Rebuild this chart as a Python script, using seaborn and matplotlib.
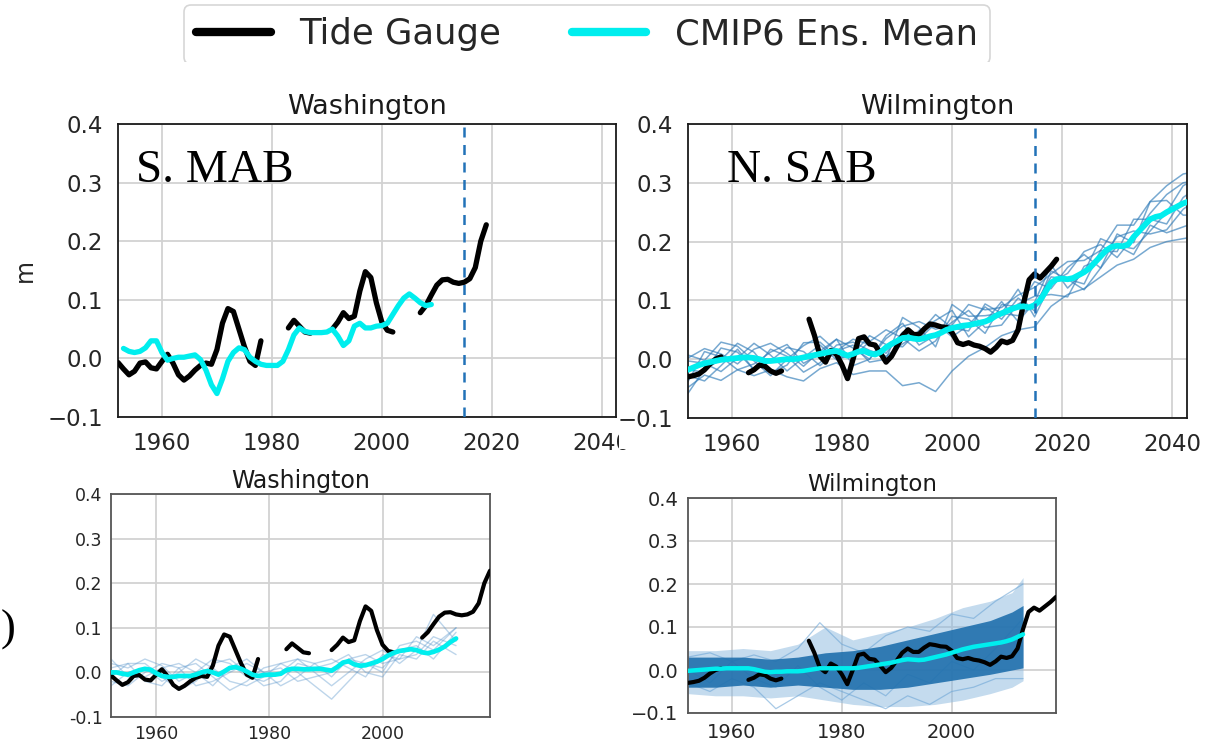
import numpy as np
import pandas as pd
import matplotlib
matplotlib.use("Agg")
import matplotlib.pyplot as plt
from matplotlib.lines import Line2D
from matplotlib.patches import Rectangle
import seaborn as sns

# ---------------- data ----------------
years_tg = np.arange(1952, 2020)
nan = np.nan
wash_tide = [-0.007, -0.018, -0.028, -0.022, -0.008, -0.006, -0.016, -0.018, -0.005, 0.007,
             -0.008, -0.028, -0.037, -0.030, -0.020, -0.012, -0.008, -0.010, 0.015, 0.060,
             0.085, 0.080, 0.050, 0.020, -0.005, -0.012, 0.030,
             nan, nan, nan, nan,
             0.052, 0.065, 0.055, 0.045, 0.043,
             nan, nan, nan,
             0.050, 0.062, 0.078, 0.068, 0.072, 0.115, 0.148, 0.138, 0.095, 0.062, 0.048, 0.045,
             nan, nan, nan, nan,
             0.078, 0.090, 0.108, 0.125, 0.134, 0.135, 0.130, 0.128, 0.130, 0.136, 0.155, 0.200, 0.228]
wilm_tide = [-0.030, -0.028, -0.025, -0.018, -0.008, 0.000, 0.004,
             nan, nan, nan, nan,
             -0.023, -0.018, -0.010, -0.012, -0.020, -0.024, -0.020,
             nan, nan, nan, nan,
             0.068, 0.040, 0.005, -0.005, 0.015, 0.008, -0.010, -0.033, 0.000, 0.035,
             0.038, 0.026, 0.024, 0.010, -0.005, 0.005, 0.022, 0.040, 0.050, 0.042,
             0.042, 0.052, 0.060, 0.058, 0.055, 0.054, 0.045, 0.028, 0.025, 0.028,
             0.024, 0.022, 0.018, 0.012, 0.020, 0.031, 0.028, 0.032, 0.050, 0.095,
             0.135, 0.145, 0.138, 0.148, 0.158, 0.170]

# top-left: Washington CMIP6 ensemble mean (1953-2009)
years_wash_mean_top = np.arange(1953, 2010)
wash_mean_top = [0.017, 0.012, 0.010, 0.012, 0.018, 0.030, 0.030, 0.010, -0.003, 0.000,
                 0.002, 0.002, 0.004, 0.006, -0.002, -0.020, -0.045, -0.060, -0.035, -0.005,
                 0.010, 0.018, 0.015, 0.002, -0.005, -0.010, -0.012, -0.012, -0.012, -0.005,
                 0.015, 0.040, 0.052, 0.046, 0.044, 0.044, 0.044, 0.045, 0.050, 0.038,
                 0.022, 0.030, 0.055, 0.060, 0.052, 0.052, 0.055, 0.056, 0.060, 0.075,
                 0.090, 0.103, 0.110, 0.103, 0.095, 0.090, 0.092]

# top-right: Wilmington CMIP6 ensemble mean (1952-2045)
years_wilm_mean_top = np.arange(1952, 2046)
wilm_mean_top = [-0.018, -0.014, -0.010, -0.007, -0.005, -0.003, -0.001, 0.000, 0.001, 0.002,
                 0.003, 0.003, 0.002, 0.000, -0.003, -0.003, -0.002, -0.001, 0.000, 0.000,
                 0.001, 0.003, 0.005, 0.007, 0.009, 0.011, 0.013, 0.014, 0.010, 0.006,
                 0.009, 0.013, 0.014, 0.010, 0.008, 0.012, 0.020, 0.026, 0.031, 0.036,
                 0.037, 0.035, 0.034, 0.036, 0.039, 0.041, 0.045, 0.050, 0.053, 0.055,
                 0.057, 0.058, 0.060, 0.062, 0.064, 0.068, 0.074, 0.078, 0.082, 0.086,
                 0.089, 0.090, 0.088, 0.092, 0.100, 0.115, 0.130, 0.136, 0.137, 0.136,
                 0.138, 0.143, 0.148, 0.155, 0.165, 0.175, 0.185, 0.191, 0.193, 0.192,
                 0.195, 0.208, 0.218, 0.228, 0.238, 0.242, 0.244, 0.250, 0.255, 0.260,
                 0.265, 0.268, 0.272, 0.275]

# top-right: Wilmington individual members (3-yearly)
years_wilm_members = np.arange(1952, 2046, 3)
wilm_member_a = [0.002, 0.018, 0.009, -0.008, 0.017, 0.027, 0.010, -0.012, 0.014, 0.034, 0.019, 0.000,
                 0.035, 0.056, 0.064, 0.051, 0.058, 0.093, 0.084, 0.088, 0.109, 0.122, 0.145, 0.166,
                 0.168, 0.185, 0.228, 0.228, 0.268, 0.295, 0.315, 0.320]
wilm_member_b = [-0.048, -0.027, -0.036, -0.018, -0.028, -0.018, -0.030, -0.037, -0.016, -0.006, -0.026, -0.020,
                 -0.020, -0.045, -0.040, -0.055, -0.020, 0.005, 0.020, 0.040, 0.050, 0.055, 0.090, 0.110,
                 0.120, 0.140, 0.160, 0.170, 0.190, 0.200, 0.205, 0.210]
wilm_member_c = [-0.018, -0.022, 0.019, 0.012, -0.018, -0.003, 0.020, 0.013, -0.011, 0.014, 0.034, 0.025,
                 0.010, 0.046, 0.034, 0.061, 0.038, 0.058, 0.089, 0.068, 0.104, 0.082, 0.150, 0.136,
                 0.128, 0.185, 0.183, 0.238, 0.238, 0.230, 0.275, 0.295]
wilm_member_d = [-0.058, -0.017, -0.001, 0.027, 0.012, -0.023, -0.010, 0.028, 0.029, 0.004, 0.004, 0.030,
                 0.050, 0.036, 0.014, 0.031, 0.073, 0.068, 0.044, 0.093, 0.089, 0.132, 0.120, 0.156,
                 0.178, 0.155, 0.213, 0.198, 0.268, 0.270, 0.245, 0.245]
wilm_member_e = [-0.003, -0.007, -0.021, 0.002, 0.027, 0.007, -0.020, 0.003, 0.024, -0.001, 0.009, 0.040,
                 0.025, 0.021, 0.049, 0.066, 0.083, 0.038, 0.064, 0.098, 0.064, 0.097, 0.160, 0.121,
                 0.148, 0.205, 0.193, 0.188, 0.218, 0.250, 0.295, 0.310]
wilm_member_f = [-0.038, 0.013, 0.004, -0.018, -0.008, 0.012, 0.025, -0.007, 0.009, 0.034, -0.011, 0.000,
                 0.040, 0.061, 0.024, 0.041, 0.063, 0.083, 0.054, 0.058, 0.094, 0.107, 0.110, 0.106,
                 0.158, 0.170, 0.208, 0.218, 0.213, 0.220, 0.255, 0.275]
wilm_member_g = [0.007, -0.002, 0.029, 0.022, -0.003, -0.028, 0.000, 0.023, 0.039, 0.014, 0.024, -0.005,
                 0.000, 0.071, 0.054, 0.021, 0.093, 0.073, 0.074, 0.078, 0.119, 0.072, 0.130, 0.146,
                 0.183, 0.195, 0.173, 0.208, 0.248, 0.280, 0.300, 0.305]
wilm_member_h = [-0.028, -0.037, -0.011, 0.017, -0.018, 0.017, 0.005, -0.022, -0.006, 0.024, 0.029, 0.015,
                 0.005, 0.026, 0.044, 0.076, 0.053, 0.048, 0.094, 0.078, 0.074, 0.092, 0.140, 0.136,
                 0.118, 0.155, 0.193, 0.178, 0.228, 0.215, 0.225, 0.235]

# bottom-left: Washington mean (1952-2013) and members
years_wash_mean_bot = np.arange(1952, 2014)
wash_mean_bot = [0.000, 0.000, -0.003, -0.005, 0.000, 0.005, 0.008, 0.006, -0.002, -0.008,
                 -0.010, -0.010, -0.008, -0.008, -0.008, -0.005, 0.000, 0.003, 0.000, -0.005,
                 0.002, 0.010, 0.012, 0.008, 0.002, -0.005, -0.008, -0.006, -0.005, -0.005,
                 -0.003, 0.005, 0.008, 0.008, 0.007, 0.007, 0.008, 0.008, 0.006, 0.004,
                 0.012, 0.022, 0.025, 0.018, 0.015, 0.016, 0.020, 0.024, 0.030, 0.038,
                 0.044, 0.048, 0.050, 0.052, 0.050, 0.045, 0.043, 0.046, 0.051, 0.058,
                 0.068, 0.076]
years_wash_members = [1952, 1955, 1958, 1961, 1964, 1967, 1970, 1973, 1976, 1979, 1982,
                      1985, 1988, 1991, 1994, 1997, 2000, 2003, 2006, 2009, 2013]
wash_member_1 = [0.02, 0.01, 0.03, 0.015, -0.02, 0.0, 0.03, 0.02, -0.01, -0.02, 0.0, 0.03, 0.02, -0.01, 0.03, 0.02, 0.0, 0.06, 0.07, 0.05, 0.10]
wash_member_2 = [-0.02, -0.03, 0.0, 0.02, 0.01, -0.03, -0.02, 0.0, 0.02, 0.0, -0.03, -0.01, 0.02, 0.03, 0.01, -0.01, 0.04, 0.03, 0.04, 0.08, 0.06]
wash_member_3 = [0.01, 0.02, -0.02, -0.03, 0.01, 0.02, -0.01, -0.04, -0.02, 0.01, 0.02, 0.0, -0.03, -0.06, -0.02, 0.02, 0.01, 0.05, 0.06, 0.03, 0.09]
wash_member_4 = [-0.01, 0.02, 0.02, -0.01, -0.04, -0.02, 0.02, 0.03, 0.0, -0.03, -0.02, 0.02, 0.01, 0.02, 0.04, 0.0, -0.01, 0.04, 0.03, 0.07, 0.04]
wash_member_5 = [0.03, -0.01, -0.01, 0.01, 0.02, 0.0, -0.03, 0.01, 0.03, 0.0, 0.01, -0.02, -0.01, 0.0, 0.03, 0.04, 0.02, 0.03, 0.08, 0.06, 0.10]
wash_member_6 = [-0.03, 0.0, 0.01, -0.02, 0.0, 0.03, 0.01, -0.02, -0.03, -0.01, 0.02, 0.03, 0.0, -0.03, 0.0, 0.03, 0.05, 0.02, 0.05, 0.13, 0.07]

# bottom-right: Wilmington large ensemble (mean, spread envelope, a few outlying members)
years_wilm_mean_bot = np.arange(1952, 2014)
wilm_mean_bot = [-0.002, -0.001, 0.000, 0.001, 0.002, 0.003, 0.003, 0.004, 0.004, 0.004,
                 0.004, 0.004, 0.002, -0.001, -0.004, -0.005, -0.004, -0.004, -0.003, -0.003,
                 -0.003, -0.002, 0.000, 0.002, 0.004, 0.004, 0.004, 0.004, 0.004, 0.004,
                 0.004, 0.005, 0.007, 0.009, 0.011, 0.013, 0.015, 0.017, 0.020, 0.023,
                 0.025, 0.024, 0.023, 0.024, 0.027, 0.030, 0.033, 0.036, 0.040, 0.044,
                 0.048, 0.051, 0.054, 0.056, 0.058, 0.060, 0.062, 0.064, 0.067, 0.071,
                 0.077, 0.083]
years_env = [1952, 1957, 1962, 1967, 1972, 1977, 1982, 1987, 1992, 1997, 2002, 2007, 2011, 2013]
env_outer_upper = [0.045, 0.045, 0.050, 0.045, 0.060, 0.100, 0.070, 0.085, 0.100, 0.120, 0.145, 0.160, 0.180, 0.215]
env_core_upper = [0.030, 0.030, 0.030, 0.025, 0.030, 0.040, 0.045, 0.055, 0.070, 0.085, 0.100, 0.115, 0.135, 0.150]
env_core_lower = [-0.040, -0.040, -0.035, -0.040, -0.035, -0.040, -0.045, -0.045, -0.040, -0.030, -0.020, -0.010, 0.000, 0.005]
env_outer_lower = [-0.055, -0.060, -0.060, -0.065, -0.060, -0.070, -0.080, -0.085, -0.085, -0.080, -0.070, -0.055, -0.040, -0.025]
years_wilm_outliers = [1952, 1956, 1960, 1964, 1968, 1972, 1976, 1980, 1984, 1988, 1992, 1996, 2000, 2004, 2008, 2013]
wilm_outlier_1 = [-0.03, -0.05, -0.02, -0.04, -0.09, -0.06, -0.03, -0.05, -0.07, -0.09, -0.06, -0.08, -0.05, -0.04, -0.02, -0.02]
wilm_outlier_2 = [0.03, 0.04, 0.02, 0.035, 0.02, 0.05, 0.11, 0.06, 0.04, 0.08, 0.10, 0.09, 0.13, 0.12, 0.16, 0.20]
wilm_outlier_3 = [0.00, -0.03, 0.02, -0.02, -0.04, 0.01, -0.04, -0.07, -0.03, -0.06, -0.01, -0.03, 0.02, 0.00, 0.05, 0.12]

yticks = [-0.1, 0.0, 0.1, 0.2, 0.3, 0.4]
ytick_labels = ["\u22120.1", "0.0", "0.1", "0.2", "0.3", "0.4"]
ytick_labels_hyphen = ["-0.1", "0.0", "0.1", "0.2", "0.3", "0.4"]
xticks_top = [1960, 1980, 2000, 2020, 2040]
xticks_bot = [1960, 1980, 2000]
legend_labels = ["Tide Gauge", "CMIP6 Ens. Mean"]
region_labels = ["S. MAB", "N. SAB"]
titles = ["Washington", "Wilmington"]
panel_mark = ")"

# ---------------- style ----------------
sns.set_theme(style="whitegrid")
plt.rcParams["font.family"] = ["DejaVu Sans"]

W, H = 1216, 748
fig = plt.figure(figsize=(W / 100, H / 100), dpi=100)
fig.patch.set_facecolor("white")

BLACK = "#000000"
CYAN = "#00eeee"
DASH = "#2272b8"


def px(l, t, r, b):
    return [l / W, 1 - b / H, (r - l) / W, (b - t) / H]


def segments_frame(years, values):
    rows, seg = [], 0
    prev_nan = True
    for y, v in zip(years, values):
        if np.isnan(v):
            prev_nan = True
            continue
        if prev_nan:
            seg += 1
            prev_nan = False
        rows.append((y, v, seg))
    return pd.DataFrame(rows, columns=["year", "value", "seg"])


def members_frame(years, members):
    rows = []
    for i, m in enumerate(members):
        for y, v in zip(years, m):
            rows.append((y, v, i))
    return pd.DataFrame(rows, columns=["year", "value", "member"])


def style_axes(ax, xticks, xlim, labelsize, pad, edge, ylabels):
    ax.set_xlim(*xlim)
    ax.set_ylim(-0.1, 0.4)
    ax.set_yticks(yticks)
    ax.set_yticklabels(ylabels)
    ax.set_xticks(xticks)
    ax.set_xticklabels([str(x) for x in xticks])
    ax.tick_params(axis="both", labelsize=labelsize, pad=pad, length=0, colors="#262626")
    ax.grid(True, color="#d2d2d2", linewidth=1.3)
    for s in ax.spines.values():
        s.set_color(edge)
        s.set_linewidth(1.3)
    ax.set_xlabel("")
    ax.set_ylabel("")


# ---------- top-left: Washington ----------
ax1 = fig.add_axes(px(118, 124, 616, 417))
ax1.set_zorder(0)
sns.lineplot(data=segments_frame(years_tg, wash_tide), x="year", y="value", units="seg",
             estimator=None, color=BLACK, linewidth=3.8, ax=ax1, zorder=3)
sns.lineplot(x=years_wash_mean_top, y=wash_mean_top, color=CYAN, linewidth=3.8, ax=ax1, zorder=4)
ax1.axvline(2015, color=DASH, linestyle=(0, (4, 3)), linewidth=1.8, zorder=5)
style_axes(ax1, xticks_top, (1952, 2042.6), 16.5, 11, "#1a1a1a", ytick_labels)
ax1.set_title(titles[0], fontsize=19.5, pad=7, color="#1a1a1a")

# white cover so the right panel sits on top of the left one
fig.add_artist(Rectangle((619 / W, 0.40), 1 - 619 / W, 0.49, transform=fig.transFigure,
                         facecolor="white", edgecolor="none", zorder=0.5))

# ---------- top-right: Wilmington ----------
ax2 = fig.add_axes(px(688, 124, 1187, 418))
ax2.set_zorder(1)
wilm_members = [wilm_member_a, wilm_member_b, wilm_member_c, wilm_member_d,
                wilm_member_e, wilm_member_f, wilm_member_g, wilm_member_h]
sns.lineplot(data=members_frame(years_wilm_members, wilm_members), x="year", y="value",
             units="member", estimator=None, color="#2f7bb8", alpha=0.65, linewidth=1.1,
             ax=ax2, zorder=2)
sns.lineplot(data=segments_frame(years_tg, wilm_tide), x="year", y="value", units="seg",
             estimator=None, color=BLACK, linewidth=3.8, ax=ax2, zorder=3)
sns.lineplot(x=years_wilm_mean_top, y=wilm_mean_top, color=CYAN, linewidth=4.2, ax=ax2, zorder=4)
ax2.axvline(2015, color=DASH, linestyle=(0, (4, 3)), linewidth=1.8, zorder=5)
style_axes(ax2, xticks_top, (1952, 2042.7), 16.5, 11, "#1a1a1a", ytick_labels)
ax2.set_title(titles[1], fontsize=19.5, pad=7, color="#1a1a1a")

# ---------- bottom-left: Washington ----------
ax3 = fig.add_axes(px(111, 494, 490, 717))
wash_members = [wash_member_1, wash_member_2, wash_member_3, wash_member_4, wash_member_5, wash_member_6]
sns.lineplot(data=members_frame(years_wash_members, wash_members), x="year", y="value",
             units="member", estimator=None, color="#5b97cc", alpha=0.4, linewidth=1.0,
             ax=ax3, zorder=2)
sns.lineplot(data=segments_frame(years_tg, wash_tide), x="year", y="value", units="seg",
             estimator=None, color=BLACK, linewidth=3.0, ax=ax3, zorder=3)
sns.lineplot(x=years_wash_mean_bot, y=wash_mean_bot, color=CYAN, linewidth=3.4, ax=ax3, zorder=4)
style_axes(ax3, xticks_bot, (1952, 2019), 12.5, 6, "#555555", ytick_labels_hyphen)
ax3.set_title(titles[0], fontsize=17, pad=4, color="#1a1a1a")

# ---------- bottom-right: Wilmington ----------
ax4 = fig.add_axes(px(688, 498, 1056, 713))
ax4.fill_between(years_env, env_outer_lower, env_outer_upper, color="#8ab8de", alpha=0.5,
                 linewidth=0, zorder=1)
sns.lineplot(data=members_frame(years_wilm_outliers, [wilm_outlier_1, wilm_outlier_2, wilm_outlier_3]),
             x="year", y="value", units="member", estimator=None, color="#6ea6d6", alpha=0.6,
             linewidth=0.9, ax=ax4, zorder=1.5)
ax4.fill_between(years_env, env_core_lower, env_core_upper, color="#2070ad", alpha=0.9,
                 linewidth=0, zorder=2)
sns.lineplot(data=segments_frame(years_tg, wilm_tide), x="year", y="value", units="seg",
             estimator=None, color=BLACK, linewidth=3.0, ax=ax4, zorder=3)
sns.lineplot(x=years_wilm_mean_bot, y=wilm_mean_bot, color=CYAN, linewidth=3.2, ax=ax4, zorder=4)
style_axes(ax4, xticks_bot, (1952, 2019), 14, 7, "#555555", ytick_labels)
ax4.set_title(titles[1], fontsize=16.5, pad=5, color="#1a1a1a")

# ---------- annotations ----------
fig.text(136 / W, 1 - 182 / H, region_labels[0], family="Liberation Serif", fontsize=34,
         va="baseline", ha="left", color="black", zorder=10)
fig.text(727 / W, 1 - 182 / H, region_labels[1], family="Liberation Serif", fontsize=34,
         va="baseline", ha="left", color="black", zorder=10)
fig.text(25 / W, 1 - 270 / H, "m", fontsize=17, rotation=90, va="center", ha="center",
         color="#262626")
fig.text(0.5 / W, 1 - 630 / H, panel_mark, family="Liberation Serif", fontsize=32, va="center",
         ha="left", color="black")

# ---------- legend ----------
handles = [Line2D([], [], color=BLACK, linewidth=6, solid_capstyle="round"),
           Line2D([], [], color=CYAN, linewidth=6, solid_capstyle="round")]
leg = fig.legend(handles, legend_labels, loc="upper center", bbox_to_anchor=(587 / W, 1 - 5 / H),
                 ncol=2, fontsize=25.5, frameon=True, handlelength=2.1, handletextpad=0.8,
                 columnspacing=2.0, borderpad=0.35, borderaxespad=0, fancybox=True)
leg.get_frame().set_edgecolor("#cccccc")
leg.get_frame().set_linewidth(1.2)
leg.set_zorder(5)
fig.add_artist(Rectangle((0, 1 - 80 / H), 1, 18 / H, transform=fig.transFigure,
                         facecolor="white", edgecolor="none", zorder=6))

fig.savefig("out.png", dpi=100, facecolor="white")
